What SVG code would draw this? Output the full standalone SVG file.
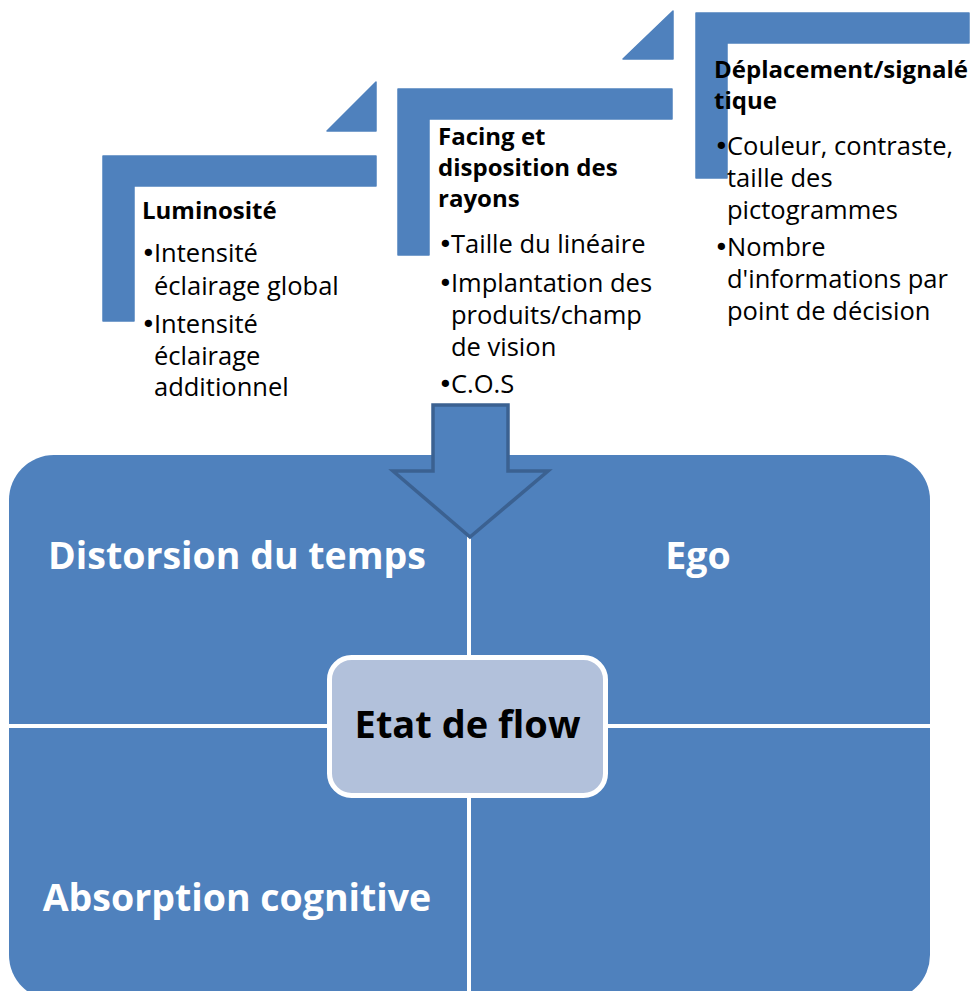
<svg xmlns="http://www.w3.org/2000/svg" width="977" height="991" viewBox="0 0 977 991">
<style>
.blue{fill:#4F81BD;stroke:#4F81BD;stroke-width:1.5;stroke-linejoin:round}
.h{font-family:"Open Sans","Liberation Sans",sans-serif;font-weight:bold;font-size:24px;fill:#000}
.b{font-family:"Open Sans","Liberation Sans",sans-serif;font-size:25.5px;fill:#000}
.d{font-family:"DejaVu Sans",sans-serif;font-size:25px;fill:#000}
.q{font-family:"Open Sans","Liberation Sans",sans-serif;font-weight:bold;font-size:37.5px;fill:#fff}
.c{font-family:"Open Sans","Liberation Sans",sans-serif;font-weight:bold;font-size:38px;fill:#000}
</style>
<rect width="977" height="991" fill="#fff"/>
<g id="stage-luminosite">
<path class="blue" d="M103,156 H376 V186 H134 V321 H103 Z"/>
<path class="blue" d="M327,131 L376,82 V131 Z"/>
<text class="h" x="142" y="219">Luminosité</text>
<text class="d" x="141" y="262">•</text>
<text class="b" x="154" y="262">Intensité</text>
<text class="b" x="154" y="295">éclairage global</text>
<text class="d" x="141" y="333">•</text>
<text class="b" x="154" y="333">Intensité</text>
<text class="b" x="154" y="365">éclairage</text>
<text class="b" x="154" y="396">additionnel</text>
</g>
<g id="stage-facing">
<path class="blue" d="M398,89 H672 V119 H429 V255 H398 Z"/>
<path class="blue" d="M623,59 L673,11 V59 Z"/>
<text class="h" x="438" y="145">Facing et</text>
<text class="h" x="438" y="176">disposition des</text>
<text class="h" x="438" y="207">rayons</text>
<text class="d" x="438" y="253">•</text>
<text class="b" x="451" y="253">Taille du linéaire</text>
<text class="d" x="438" y="292">•</text>
<text class="b" x="451" y="292">Implantation des</text>
<text class="b" x="451" y="324">produits/champ</text>
<text class="b" x="451" y="356">de vision</text>
<text class="d" x="438" y="393">•</text>
<text class="b" x="451" y="393">C.O.S</text>
</g>
<g id="stage-deplacement">
<path class="blue" d="M696,13 H969 V43 H727 V178 H696 Z"/>
<text class="h" x="714" y="78">Déplacement/signalé</text>
<text class="h" x="714" y="109">tique</text>
<text class="d" x="714" y="155">•</text>
<text class="b" x="727" y="155">Couleur, contraste,</text>
<text class="b" x="727" y="187">taille des</text>
<text class="b" x="727" y="219">pictogrammes</text>
<text class="d" x="714" y="256">•</text>
<text class="b" x="727" y="256">Nombre</text>
<text class="b" x="727" y="288">d'informations par</text>
<text class="b" x="727" y="320">point de décision</text>
</g>
<g id="q-distorsion">
<path fill="#4F81BD" d="M9,724 V500 A45,45 0 0 1 54,455 H467 V724 Z"/>
<text class="q" x="237" y="569" text-anchor="middle">Distorsion du temps</text>
</g>
<g id="q-ego">
<path fill="#4F81BD" d="M471,455 H885 A45,45 0 0 1 930,500 V724 H471 Z"/>
<text class="q" x="698" y="569" text-anchor="middle">Ego</text>
</g>
<g id="q-absorption">
<path fill="#4F81BD" d="M9,728 H467 V1000 H54 A45,45 0 0 1 9,955 Z"/>
<text class="q" x="237" y="911" text-anchor="middle">Absorption cognitive</text>
</g>
<g id="q-empty">
<path fill="#4F81BD" d="M471,728 H930 V955 A45,45 0 0 1 885,1000 H471 Z"/>
</g>
<g id="connectors">
<path fill="#4F81BD" stroke="#3B6191" stroke-width="3.5" stroke-linejoin="miter" d="M433,405 H508 V471 H548 L470,537 L393,471 H433 Z"/>
</g>
<g id="etat-de-flow">
<rect x="329.5" y="657.5" width="276" height="138" rx="22" fill="#B2C1DB" stroke="#fff" stroke-width="5"/>
<text class="c" x="467.5" y="738" text-anchor="middle">Etat de flow</text>
</g>
</svg>
